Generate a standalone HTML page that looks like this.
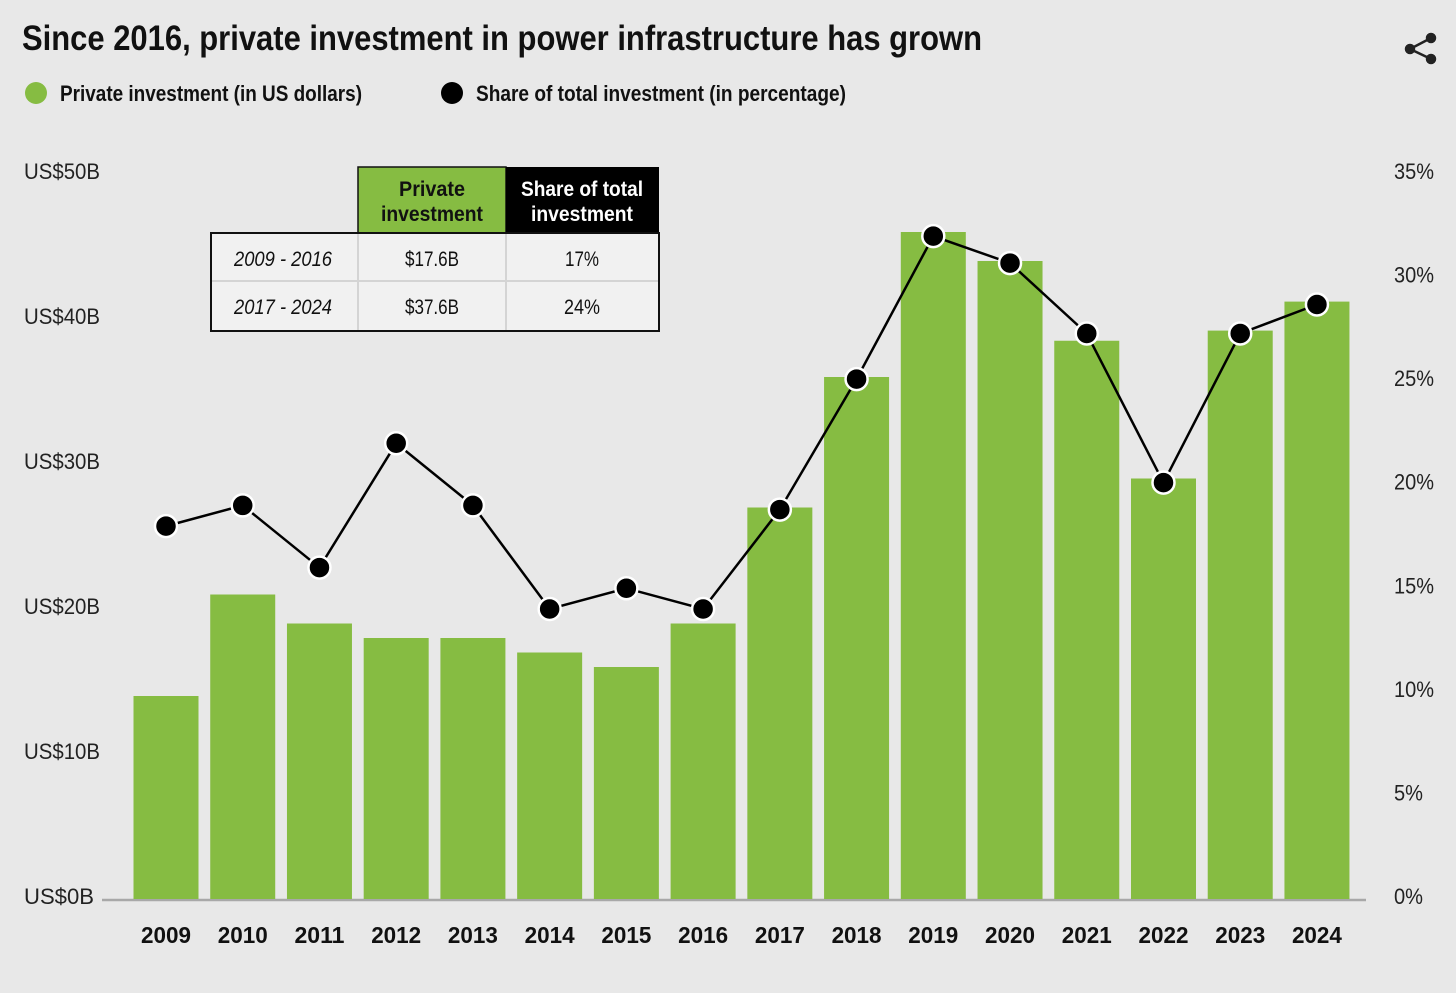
<!DOCTYPE html>
<html><head><meta charset="utf-8"><style>
body{margin:0;background:#e8e8e8;width:1456px;height:988px;overflow:hidden;font-family:"Liberation Sans Narrow","Liberation Sans",sans-serif;}
svg text{font-family:"Liberation Sans Narrow","Liberation Sans",sans-serif;}
</style></head><body>
<svg width="1456" height="988">
<rect width="1456" height="988" fill="#e8e8e8"/>
<text x="22" y="50" font-size="35" font-weight="bold" fill="#111" textLength="960" lengthAdjust="spacingAndGlyphs">Since 2016, private investment in power infrastructure has grown</text>
<g stroke="#222" stroke-width="2.5" fill="#222">
<line x1="1410" y1="49" x2="1431" y2="38"/><line x1="1410" y1="49" x2="1431" y2="59"/>
<circle cx="1410" cy="49" r="4"/><circle cx="1431" cy="38" r="4"/><circle cx="1431" cy="59" r="4"/></g>
<g>
<circle cx="36" cy="93" r="11" fill="#86bc42"/>
<text x="60" y="101" font-size="22" font-weight="bold" fill="#111" textLength="302" lengthAdjust="spacingAndGlyphs">Private investment (in US dollars)</text>
<circle cx="452" cy="93" r="11" fill="#000"/>
<text x="476" y="101" font-size="22" font-weight="bold" fill="#111" textLength="370" lengthAdjust="spacingAndGlyphs">Share of total investment (in percentage)</text>
</g>
<g id="axes"></g>
<g id="bars"></g>
<g id="line"></g>
<g font-size="21">
<rect x="358" y="167" width="148" height="66" fill="#86bc42" stroke="#111" stroke-width="1.5"/>
<rect x="506" y="167" width="153" height="66" fill="#000"/>
<text x="432" y="196" text-anchor="middle" font-weight="bold" fill="#111" textLength="66" lengthAdjust="spacingAndGlyphs">Private</text>
<text x="432" y="221" text-anchor="middle" font-weight="bold" fill="#111" textLength="102" lengthAdjust="spacingAndGlyphs">investment</text>
<text x="582" y="196" text-anchor="middle" font-weight="bold" fill="#fff" textLength="122" lengthAdjust="spacingAndGlyphs">Share of total</text>
<text x="582" y="221" text-anchor="middle" font-weight="bold" fill="#fff" textLength="102" lengthAdjust="spacingAndGlyphs">investment</text>
<rect x="211" y="233" width="448" height="98" fill="#f1f1f1" stroke="#111" stroke-width="2"/>
<line x1="212" y1="281" x2="658" y2="281" stroke="#d4d4d4" stroke-width="2"/>
<line x1="358" y1="234" x2="358" y2="330" stroke="#d4d4d4" stroke-width="2"/>
<line x1="506" y1="234" x2="506" y2="330" stroke="#d4d4d4" stroke-width="2"/>
<text x="283" y="266" text-anchor="middle" font-style="italic" fill="#111" textLength="98" lengthAdjust="spacingAndGlyphs">2009 - 2016</text>
<text x="283" y="314" text-anchor="middle" font-style="italic" fill="#111" textLength="98" lengthAdjust="spacingAndGlyphs">2017 - 2024</text>
<text x="432" y="266" text-anchor="middle" fill="#111" textLength="54" lengthAdjust="spacingAndGlyphs">$17.6B</text>
<text x="432" y="314" text-anchor="middle" fill="#111" textLength="54" lengthAdjust="spacingAndGlyphs">$37.6B</text>
<text x="582" y="266" text-anchor="middle" fill="#111" textLength="34" lengthAdjust="spacingAndGlyphs">17%</text>
<text x="582" y="314" text-anchor="middle" fill="#111" textLength="36" lengthAdjust="spacingAndGlyphs">24%</text>
</g>
</svg>
<script>
const years=["2009","2010","2011","2012","2013","2014","2015","2016","2017","2018","2019","2020","2021","2022","2023","2024"];
const investment=[14,21,19,18,18,17,16,19,27,36,46,44,38.5,29,39.2,41.2];
const share=[18,19,16,22,19,14,15,14,18.8,25.1,32,30.7,27.3,20.1,27.3,28.7];
const leftTicks=[0,10,20,30,40,50];
const rightTicks=[0,5,10,15,20,25,30,35];
const NS="http://www.w3.org/2000/svg";
const base=899, top0=174;
const yL=v=>base-(base-top0)*v/50;
const yR=v=>base-(base-top0)*v/35;
const x=i=>166+i*76.73;
function mk(t,a,p){const e=document.createElementNS(NS,t);for(const k in a)e.setAttribute(k,a[k]);p.appendChild(e);return e;}
const ax=document.getElementById('axes'),bg=document.getElementById('bars'),lg=document.getElementById('line');
leftTicks.forEach(v=>{const t=mk('text',{x:24,y:yL(v)+5,'font-size':22,fill:'#222',textLength:(v>=10?76:70),lengthAdjust:'spacingAndGlyphs'},ax);t.textContent='US$'+v+'B';

});
rightTicks.forEach(v=>{const t=mk('text',{x:1394,y:yR(v)+5,'font-size':22,fill:'#222',textLength:(v>=10?40:29),lengthAdjust:'spacingAndGlyphs'},ax);t.textContent=v+'%';

});
years.forEach((y,i)=>{const b=mk('rect',{x:x(i)-32.5,y:yL(investment[i]),width:65,height:base-yL(investment[i]),fill:'#86bc42'},bg);


const t=mk('text',{x:x(i),y:943,'text-anchor':'middle','font-size':23,'font-weight':'bold',fill:'#111',textLength:50,lengthAdjust:'spacingAndGlyphs'},ax);t.textContent=y;

});
const bl=mk('line',{x1:102,y1:base+1,x2:1366,y2:base+1,stroke:'#a8a8a8','stroke-width':2.5},ax);


const pl=mk('polyline',{points:share.map((v,i)=>x(i)+','+yR(v)).join(' '),fill:'none',stroke:'#000','stroke-width':2.5},lg);


share.forEach((v,i)=>{const c=mk('circle',{cx:x(i),cy:yR(v),r:11,fill:'#000',stroke:'#fff','stroke-width':2.5},lg);

});
</script>
</body></html>
